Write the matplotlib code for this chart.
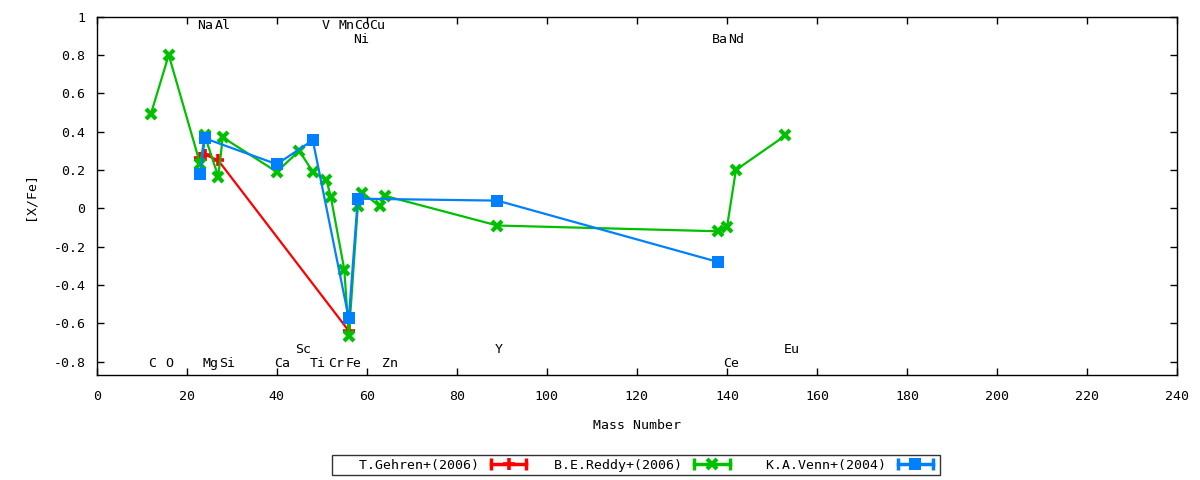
import matplotlib
matplotlib.use("Agg")
import matplotlib.pyplot as plt
from matplotlib.lines import Line2D
from matplotlib.legend_handler import HandlerLine2D, HandlerTuple
from matplotlib.ticker import FuncFormatter

plt.rcParams['font.family'] = ['DejaVu Sans Mono']
plt.rcParams['font.size'] = 9.5

# T.Gehren+(2006)
gehren_a = [23, 24, 27, 56]
gehren_xfe = [0.26, 0.28, 0.25, -0.64]

# B.E.Reddy+(2006)
reddy_a = [12, 16, 23, 24, 27, 28, 40, 45, 48, 51, 52, 55, 56, 58, 59, 63, 64, 89, 138, 140, 142, 153]
reddy_xfe = [0.49, 0.80, 0.23, 0.38, 0.165, 0.37, 0.19, 0.30, 0.19, 0.15, 0.06, -0.32, -0.665,
             0.01, 0.08, 0.01, 0.065, -0.09, -0.12, -0.10, 0.20, 0.38]

# K.A.Venn+(2004)
venn_a = [23, 24, 40, 48, 56, 58, 89, 138]
venn_xfe = [0.18, 0.365, 0.23, 0.355, -0.575, 0.05, 0.04, -0.28]

series_names = ['T.Gehren+(2006)', 'B.E.Reddy+(2006)', 'K.A.Venn+(2004)']

# element labels: name, x, y
elem_names = ['Na', 'Al', 'V', 'Mn', 'Co', 'Cu', 'Ni', 'Ba', 'Nd',
              'C', 'O', 'Mg', 'Si', 'Ca', 'Ti', 'Cr', 'Fe', 'Zn', 'Ce',
              'Sc', 'Y', 'Eu']
elem_x = [24.0, 28.0, 50.9, 55.4, 58.9, 62.4, 58.7, 138.4, 142.0,
          12.2, 16.1, 25.2, 29.0, 41.1, 49.2, 53.1, 57.0, 65.2, 141.0,
          45.9, 89.4, 154.3]
elem_y = [0.952] * 6 + [0.882] * 3 + [-0.808] * 10 + [-0.735] * 3

fig = plt.figure(figsize=(12, 4.8), dpi=100)
ax = fig.add_axes([0.0806, 0.2188, 0.9003, 0.7465])

l_red, = ax.plot(gehren_a, gehren_xfe, color='#ff0000', lw=1.6,
                 marker='+', ms=8, mew=2.6)
l_green, = ax.plot(reddy_a, reddy_xfe, color='#00c000', lw=1.6,
                   marker='x', ms=6.5, mew=3)
l_blue, = ax.plot(venn_a, venn_xfe, color='#0080ff', lw=1.6,
                  marker='s', ms=8, mew=0)

for n, x, y in zip(elem_names, elem_x, elem_y):
    ax.text(x, y, n, ha='center', va='center')

ax.set_xlim(0, 240)
ax.set_ylim(-0.87, 1.0)
ax.set_xticks(range(0, 241, 20))
ax.set_yticks([-0.8, -0.6, -0.4, -0.2, 0, 0.2, 0.4, 0.6, 0.8, 1.0])
ax.yaxis.set_major_formatter(FuncFormatter(lambda v, p: '%g' % round(v, 2)))
ax.tick_params(direction='in', top=True, right=True, length=5, width=1, pad=8)
ax.tick_params(axis='x', pad=11)
for s in ax.spines.values():
    s.set_linewidth(1)

ax.set_xlabel('Mass Number', labelpad=11)
ax.set_ylabel('[X/Fe]', labelpad=12)

# legend samples look like gnuplot yerrorlines keys
handles = []
hmap = {}
for line in [l_red, l_green, l_blue]:
    bar = Line2D([], [], color=line.get_color(), lw=2.5, marker='|', ms=8, mew=2.5)
    pt = Line2D([], [], color=line.get_color(), ls='', marker=line.get_marker(),
                ms=line.get_markersize(), mew=line.get_markeredgewidth())
    hmap[bar] = HandlerLine2D(numpoints=2)
    hmap[pt] = HandlerLine2D(numpoints=1)
    handles.append((bar, pt))
hmap[tuple] = HandlerTuple(ndivide=1)

labels = [n.rjust(18) for n in series_names]
leg = fig.legend(handles, labels,
                 handler_map=hmap, loc='center', bbox_to_anchor=(0.53, 0.031),
                 ncol=3, markerfirst=False, frameon=True, fancybox=False,
                 handlelength=3.3, columnspacing=0.6, handletextpad=0.6,
                 borderpad=0.25, borderaxespad=0)
leg.get_frame().set_edgecolor('black')
leg.get_frame().set_linewidth(1)

fig.savefig('out.png', dpi=100)
